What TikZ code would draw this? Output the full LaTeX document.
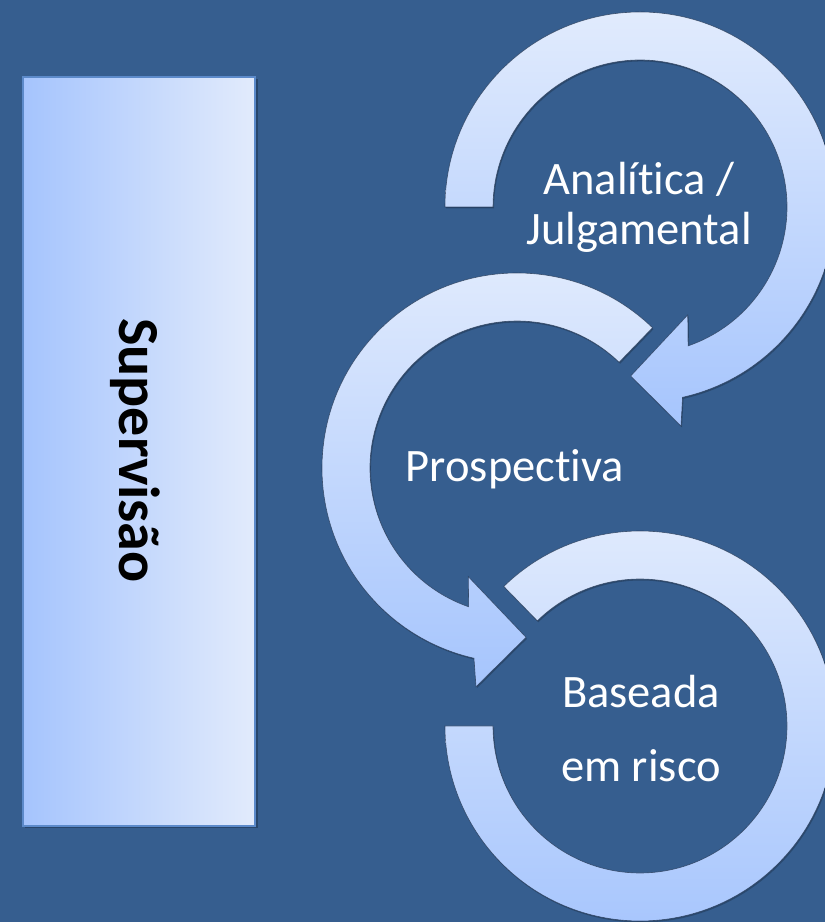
\documentclass[tikz,border=0pt]{standalone}
\usepackage{fontspec}
\setmainfont{Carlito}[RawFeature={-liga;-clig;-dlig}]
\definecolor{bg}{RGB}{54,94,143}
\definecolor{arctop}{RGB}{225,235,253}
\definecolor{arcbot}{RGB}{166,197,253}
\definecolor{recleft}{RGB}{165,196,253}
\definecolor{recright}{RGB}{226,235,252}
\definecolor{recedge}{RGB}{92,138,202}
\definecolor{edgeshadow}{RGB}{30,48,75}
\tikzset{
  arrowshape/.style={top color=arctop, bottom color=arcbot, draw=edgeshadow, draw opacity=0.7, line width=0.6pt, line join=miter},
  shadowshape/.style={fill=black, fill opacity=0.22},
  lbl/.style={text=white, font=\fontsize{46.5}{50}\selectfont, anchor=base, inner sep=0pt},
  suplbl/.style={text=black, font=\bfseries\fontsize{58}{60}\selectfont, rotate=-90, inner sep=0pt},
}
\begin{document}
\begin{tikzpicture}[x=1pt,y=1pt]
\useasboundingbox (0,0) rectangle (825,922);
\clip (0,0) rectangle (825,922);
\fill[bg] (0,0) rectangle (825,922);
% left box
\fill[black, opacity=0.25] (25,93.5) rectangle (257.5,843);
\node[rectangle, minimum width=232, minimum height=749, left color=recleft, right color=recright, draw=recedge, line width=1.5pt] (box) at (139,470.5) {};
\node[suplbl] (suptxt) at (135,471.5) {Supervisão};
% arrow 1 (top)
\begin{scope}[shift={(641,713.5)}]
  \path[shadowshape] (180:195) arc[start angle=180, end angle=-77.4, radius=195] -- (41,-219) -- (-9.3,-169) -- (47.7,-108) -- (-70.9:147) arc[start angle=-70.9, end angle=180, radius=147] -- cycle;
\end{scope}
\begin{scope}[shift={(640,715)}]
  \path[arrowshape] (180:195) arc[start angle=180, end angle=-77.4, radius=195] -- (41,-219) -- (-9.3,-169) -- (47.7,-108) -- (-70.9:147) arc[start angle=-70.9, end angle=180, radius=147] -- cycle;
\end{scope}
% arrow 2 (middle)
\begin{scope}[shift={(518,452.5)}]
  \path[shadowshape] (46:195) arc[start angle=46, end angle=257.25, radius=195] -- (-41,-218.7) -- (9,-169.3) -- (-48.7,-108.7) -- (250.8:147) arc[start angle=250.8, end angle=46, radius=147] -- cycle;
\end{scope}
\begin{scope}[shift={(517,454)}]
  \path[arrowshape] (46:195) arc[start angle=46, end angle=257.25, radius=195] -- (-41,-218.7) -- (9,-169.3) -- (-48.7,-108.7) -- (250.8:147) arc[start angle=250.8, end angle=46, radius=147] -- cycle;
\end{scope}
% arrow 3 (bottom)
\begin{scope}[shift={(641,194.5)}]
  \path[shadowshape] (134.3:195) arc[start angle=134.3, end angle=-180, radius=195] -- (-180:147) arc[start angle=-180, end angle=134.3, radius=147] -- cycle;
\end{scope}
\begin{scope}[shift={(640,196)}]
  \path[arrowshape] (134.3:195) arc[start angle=134.3, end angle=-180, radius=195] -- (-180:147) arc[start angle=-180, end angle=134.3, radius=147] -- cycle;
\end{scope}
% labels
\node[lbl] (t1a) at (639,727.7) {Analítica /};
\node[lbl] (t1b) at (639,677.5) {Julgamental};
\node[lbl] (t2) at (515,440.3) {Prospectiva};
\node[lbl] (t3a) at (641,214) {Baseada};
\node[lbl] (t3b) at (641,140) {em risco};
\end{tikzpicture}
\end{document}
